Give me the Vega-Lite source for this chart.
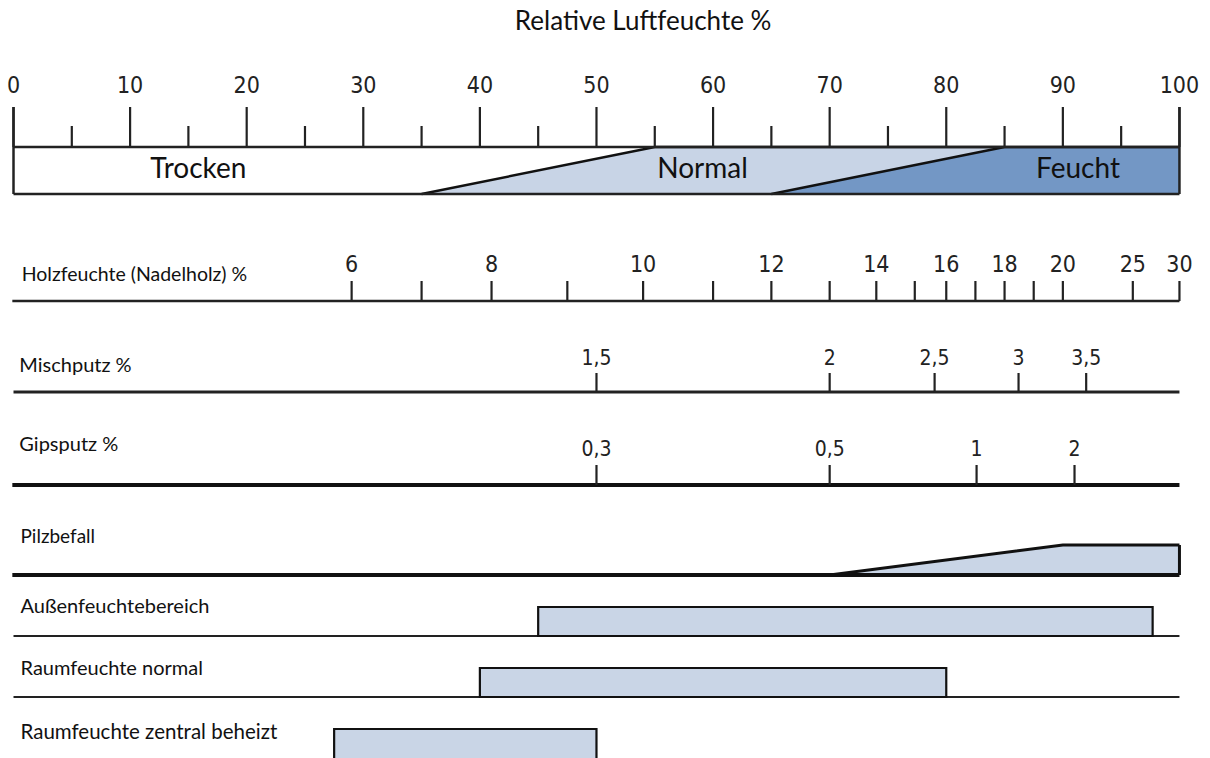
{
  "$schema": "https://vega.github.io/schema/vega-lite/v6.json",
  "width": 1210,
  "height": 758,
  "padding": 0,
  "autosize": {"type": "none"},
  "background": "white",
  "config": {"view": {"stroke": null}},
  "datasets": {
    "rh_skala": [
      {"rh": 0, "major": true, "label": "0"},
      {"rh": 5, "major": false, "label": ""},
      {"rh": 10, "major": true, "label": "10"},
      {"rh": 15, "major": false, "label": ""},
      {"rh": 20, "major": true, "label": "20"},
      {"rh": 25, "major": false, "label": ""},
      {"rh": 30, "major": true, "label": "30"},
      {"rh": 35, "major": false, "label": ""},
      {"rh": 40, "major": true, "label": "40"},
      {"rh": 45, "major": false, "label": ""},
      {"rh": 50, "major": true, "label": "50"},
      {"rh": 55, "major": false, "label": ""},
      {"rh": 60, "major": true, "label": "60"},
      {"rh": 65, "major": false, "label": ""},
      {"rh": 70, "major": true, "label": "70"},
      {"rh": 75, "major": false, "label": ""},
      {"rh": 80, "major": true, "label": "80"},
      {"rh": 85, "major": false, "label": ""},
      {"rh": 90, "major": true, "label": "90"},
      {"rh": 95, "major": false, "label": ""},
      {"rh": 100, "major": true, "label": "100"}
    ],
    "holz": [
      {"rh": 29, "label": "6"},
      {"rh": 35, "label": ""},
      {"rh": 41, "label": "8"},
      {"rh": 47.5, "label": ""},
      {"rh": 54, "label": "10"},
      {"rh": 60, "label": ""},
      {"rh": 65, "label": "12"},
      {"rh": 70, "label": ""},
      {"rh": 74, "label": "14"},
      {"rh": 77.3, "label": ""},
      {"rh": 80, "label": "16"},
      {"rh": 82.5, "label": ""},
      {"rh": 85, "label": "18"},
      {"rh": 87.5, "label": ""},
      {"rh": 90, "label": "20"},
      {"rh": 96, "label": "25"},
      {"rh": 100, "label": "30"}
    ],
    "misch": [
      {"rh": 50, "label": "1,5"},
      {"rh": 70, "label": "2"},
      {"rh": 79, "label": "2,5"},
      {"rh": 86.2, "label": "3"},
      {"rh": 92, "label": "3,5"}
    ],
    "gips": [
      {"rh": 50, "label": "0,3"},
      {"rh": 70, "label": "0,5"},
      {"rh": 82.6, "label": "1"},
      {"rh": 91, "label": "2"}
    ],
    "zonen": [
      {"zone": "Trocken", "rh": 15.85},
      {"zone": "Normal", "rh": 59.1},
      {"zone": "Feucht", "rh": 91.3}
    ],
    "normal": [
      {"rh": 35, "oben": 0, "unten": 0},
      {"rh": 55, "oben": 1, "unten": 0},
      {"rh": 65, "oben": 1, "unten": 0},
      {"rh": 85, "oben": 1, "unten": 1}
    ],
    "feucht": [
      {"rh": 65, "oben": 0, "unten": 0},
      {"rh": 85, "oben": 1, "unten": 0},
      {"rh": 100, "oben": 1, "unten": 0}
    ],
    "pilz": [
      {"rh": 70, "oben": 0, "unten": 0},
      {"rh": 90, "oben": 1, "unten": 0},
      {"rh": 100, "oben": 1, "unten": 0}
    ],
    "bereiche": [
      {"name": "Außenfeuchtebereich", "von": 45, "bis": 97.7},
      {"name": "Raumfeuchte normal", "von": 40, "bis": 80},
      {"name": "Raumfeuchte zentral beheizt", "von": 27.5, "bis": 50}
    ],
    "spuren": [
      {"name": "Holzfeuchte (Nadelholz) %", "rh": 0.7},
      {"name": "Mischputz %", "rh": 0.5},
      {"name": "Gipsputz %", "rh": 0.5},
      {"name": "Pilzbefall", "rh": 0.6},
      {"name": "Außenfeuchtebereich", "rh": 0.6},
      {"name": "Raumfeuchte normal", "rh": 0.6},
      {"name": "Raumfeuchte zentral beheizt", "rh": 0.6}
    ],
    "eins": [{"id": 1}]
  },
  "resolve": {"scale": {"y": "independent"}},
  "layer": [
    {
      "data": {"name": "normal"},
      "mark": {"type": "area", "color": "#c8d4e6", "opacity": 1, "line": {"color": "#111111", "strokeWidth": 2.5}},
      "encoding": {
        "x": {"field": "rh", "type": "quantitative", "scale": {"domain": [-1.158, 102.62], "nice": false, "zero": false}, "axis": null},
        "y": {"field": "oben", "type": "quantitative", "scale": {"domain": [-12, 4.128], "nice": false, "zero": false}, "axis": null},
        "y2": {"field": "unten"}
      }
    },
    {
      "data": {"name": "feucht"},
      "mark": {"type": "area", "color": "#7397c5", "opacity": 1, "line": {"color": "#111111", "strokeWidth": 2.5}},
      "encoding": {
        "x": {"field": "rh", "type": "quantitative", "scale": {"domain": [-1.158, 102.62], "nice": false, "zero": false}, "axis": null},
        "y": {"field": "oben", "type": "quantitative", "scale": {"domain": [-12, 4.128], "nice": false, "zero": false}, "axis": null},
        "y2": {"field": "unten"}
      }
    },
    {
      "data": {"name": "pilz"},
      "mark": {"type": "area", "color": "#c9d5e6", "opacity": 1, "line": {"color": "#111111", "strokeWidth": 3}},
      "encoding": {
        "x": {"field": "rh", "type": "quantitative", "scale": {"domain": [-1.158, 102.62], "nice": false, "zero": false}, "axis": null},
        "y": {"field": "oben", "type": "quantitative", "scale": {"domain": [-6.1, 19.1667], "nice": false, "zero": false}, "axis": null},
        "y2": {"field": "unten"}
      }
    },
    {
      "resolve": {"scale": {"y": "shared"}},
      "layer": [
        {
          "data": {"values": [{"t": "Relative Luftfeuchte %"}]},
          "mark": {"type": "text", "font": "Lato", "fontSize": 26, "align": "center", "baseline": "alphabetic", "color": "#111111"},
          "encoding": {
            "x": {"datum": 54.0, "type": "quantitative", "scale": {"domain": [-1.158, 102.62], "nice": false, "zero": false}, "axis": null},
            "y": {"datum": 30, "type": "quantitative", "scale": {"domain": [0, 758], "reverse": true, "nice": false, "zero": false}, "axis": null},
            "text": {"field": "t"}
          }
        },
        {
          "data": {"name": "rh_skala"},
          "transform": [{"filter": "datum.major"}],
          "mark": {"type": "rule", "color": "#222222", "strokeWidth": 2.2},
          "encoding": {
            "x": {"field": "rh", "type": "quantitative", "scale": {"domain": [-1.158, 102.62], "nice": false, "zero": false}, "axis": null},
            "y": {"datum": 107, "type": "quantitative", "axis": null},
            "y2": {"datum": 147}
          }
        },
        {
          "data": {"name": "rh_skala"},
          "transform": [{"filter": "!datum.major"}],
          "mark": {"type": "rule", "color": "#222222", "strokeWidth": 2.2},
          "encoding": {
            "x": {"field": "rh", "type": "quantitative", "scale": {"domain": [-1.158, 102.62], "nice": false, "zero": false}, "axis": null},
            "y": {"datum": 126, "type": "quantitative", "axis": null},
            "y2": {"datum": 147}
          }
        },
        {
          "data": {"name": "rh_skala"},
          "transform": [{"filter": "datum.major"}],
          "mark": {"type": "text", "font": "DejaVu Sans Condensed, Liberation Sans Narrow, sans-serif", "fontSize": 23, "align": "center", "baseline": "alphabetic", "color": "#222222"},
          "encoding": {
            "x": {"field": "rh", "type": "quantitative", "scale": {"domain": [-1.158, 102.62], "nice": false, "zero": false}, "axis": null},
            "y": {"datum": 93, "type": "quantitative", "axis": null},
            "text": {"field": "label"}
          }
        },
        {
          "data": {"name": "eins"},
          "mark": {"type": "rule", "color": "#222222", "strokeWidth": 2.5},
          "encoding": {
            "x": {"datum": 0, "type": "quantitative", "scale": {"domain": [-1.158, 102.62], "nice": false, "zero": false}, "axis": null},
            "x2": {"datum": 100},
            "y": {"datum": 147, "type": "quantitative", "axis": null}
          }
        },
        {
          "data": {"name": "eins"},
          "mark": {"type": "rule", "color": "#222222", "strokeWidth": 2.5},
          "encoding": {
            "x": {"datum": 0, "type": "quantitative", "scale": {"domain": [-1.158, 102.62], "nice": false, "zero": false}, "axis": null},
            "x2": {"datum": 100},
            "y": {"datum": 194, "type": "quantitative", "axis": null}
          }
        },
        {
          "data": {"name": "eins"},
          "mark": {"type": "rule", "color": "#222222", "strokeWidth": 2.5},
          "encoding": {
            "x": {"datum": 0, "type": "quantitative", "scale": {"domain": [-1.158, 102.62], "nice": false, "zero": false}, "axis": null},
            "y": {"datum": 107, "type": "quantitative", "axis": null},
            "y2": {"datum": 194}
          }
        },
        {
          "data": {"name": "eins"},
          "mark": {"type": "rule", "color": "#222222", "strokeWidth": 2.5},
          "encoding": {
            "x": {"datum": 100, "type": "quantitative", "scale": {"domain": [-1.158, 102.62], "nice": false, "zero": false}, "axis": null},
            "y": {"datum": 107, "type": "quantitative", "axis": null},
            "y2": {"datum": 194}
          }
        },
        {
          "data": {"name": "zonen"},
          "mark": {"type": "text", "font": "Lato", "fontSize": 28, "align": "center", "baseline": "alphabetic", "color": "#111111"},
          "encoding": {
            "x": {"field": "rh", "type": "quantitative", "scale": {"domain": [-1.158, 102.62], "nice": false, "zero": false}, "axis": null},
            "y": {"datum": 178, "type": "quantitative", "axis": null},
            "text": {"field": "zone"}
          }
        },
        {
          "data": {"name": "spuren"},
          "transform": [{"filter": "datum.name === 'Holzfeuchte (Nadelholz) %'"}],
          "mark": {"type": "text", "font": "Lato", "fontSize": 19.5, "align": "left", "baseline": "alphabetic", "color": "#111111"},
          "encoding": {
            "x": {"field": "rh", "type": "quantitative", "scale": {"domain": [-1.158, 102.62], "nice": false, "zero": false}, "axis": null},
            "y": {"datum": 281, "type": "quantitative", "axis": null},
            "text": {"field": "name"}
          }
        },
        {
          "data": {"name": "eins"},
          "mark": {"type": "rule", "color": "#222222", "strokeWidth": 2.5},
          "encoding": {
            "x": {"datum": -0.1, "type": "quantitative", "scale": {"domain": [-1.158, 102.62], "nice": false, "zero": false}, "axis": null},
            "x2": {"datum": 100},
            "y": {"datum": 301, "type": "quantitative", "axis": null}
          }
        },
        {
          "data": {"name": "holz"},
          "mark": {"type": "rule", "color": "#222222", "strokeWidth": 2.2},
          "encoding": {
            "x": {"field": "rh", "type": "quantitative", "scale": {"domain": [-1.158, 102.62], "nice": false, "zero": false}, "axis": null},
            "y": {"datum": 281, "type": "quantitative", "axis": null},
            "y2": {"datum": 301}
          }
        },
        {
          "data": {"name": "holz"},
          "mark": {"type": "text", "font": "DejaVu Sans Condensed, Liberation Sans Narrow, sans-serif", "fontSize": 23, "align": "center", "baseline": "alphabetic", "color": "#222222"},
          "encoding": {
            "x": {"field": "rh", "type": "quantitative", "scale": {"domain": [-1.158, 102.62], "nice": false, "zero": false}, "axis": null},
            "y": {"datum": 272, "type": "quantitative", "axis": null},
            "text": {"field": "label"}
          }
        },
        {
          "data": {"name": "spuren"},
          "transform": [{"filter": "datum.name === 'Mischputz %'"}],
          "mark": {"type": "text", "font": "Lato", "fontSize": 20, "align": "left", "baseline": "alphabetic", "color": "#111111"},
          "encoding": {
            "x": {"field": "rh", "type": "quantitative", "scale": {"domain": [-1.158, 102.62], "nice": false, "zero": false}, "axis": null},
            "y": {"datum": 372, "type": "quantitative", "axis": null},
            "text": {"field": "name"}
          }
        },
        {
          "data": {"name": "eins"},
          "mark": {"type": "rule", "color": "#222222", "strokeWidth": 2.8},
          "encoding": {
            "x": {"datum": 0, "type": "quantitative", "scale": {"domain": [-1.158, 102.62], "nice": false, "zero": false}, "axis": null},
            "x2": {"datum": 100},
            "y": {"datum": 392, "type": "quantitative", "axis": null}
          }
        },
        {
          "data": {"name": "misch"},
          "mark": {"type": "rule", "color": "#222222", "strokeWidth": 2.2},
          "encoding": {
            "x": {"field": "rh", "type": "quantitative", "scale": {"domain": [-1.158, 102.62], "nice": false, "zero": false}, "axis": null},
            "y": {"datum": 373, "type": "quantitative", "axis": null},
            "y2": {"datum": 392}
          }
        },
        {
          "data": {"name": "misch"},
          "mark": {"type": "text", "font": "DejaVu Sans Condensed, Liberation Sans Narrow, sans-serif", "fontSize": 21, "align": "center", "baseline": "alphabetic", "color": "#222222"},
          "encoding": {
            "x": {"field": "rh", "type": "quantitative", "scale": {"domain": [-1.158, 102.62], "nice": false, "zero": false}, "axis": null},
            "y": {"datum": 365, "type": "quantitative", "axis": null},
            "text": {"field": "label"}
          }
        },
        {
          "data": {"name": "spuren"},
          "transform": [{"filter": "datum.name === 'Gipsputz %'"}],
          "mark": {"type": "text", "font": "Lato", "fontSize": 20, "align": "left", "baseline": "alphabetic", "color": "#111111"},
          "encoding": {
            "x": {"field": "rh", "type": "quantitative", "scale": {"domain": [-1.158, 102.62], "nice": false, "zero": false}, "axis": null},
            "y": {"datum": 451, "type": "quantitative", "axis": null},
            "text": {"field": "name"}
          }
        },
        {
          "data": {"name": "eins"},
          "mark": {"type": "rule", "color": "#111111", "strokeWidth": 4},
          "encoding": {
            "x": {"datum": -0.1, "type": "quantitative", "scale": {"domain": [-1.158, 102.62], "nice": false, "zero": false}, "axis": null},
            "x2": {"datum": 100},
            "y": {"datum": 485, "type": "quantitative", "axis": null}
          }
        },
        {
          "data": {"name": "gips"},
          "mark": {"type": "rule", "color": "#222222", "strokeWidth": 2.2},
          "encoding": {
            "x": {"field": "rh", "type": "quantitative", "scale": {"domain": [-1.158, 102.62], "nice": false, "zero": false}, "axis": null},
            "y": {"datum": 465, "type": "quantitative", "axis": null},
            "y2": {"datum": 485}
          }
        },
        {
          "data": {"name": "gips"},
          "mark": {"type": "text", "font": "DejaVu Sans Condensed, Liberation Sans Narrow, sans-serif", "fontSize": 21, "align": "center", "baseline": "alphabetic", "color": "#222222"},
          "encoding": {
            "x": {"field": "rh", "type": "quantitative", "scale": {"domain": [-1.158, 102.62], "nice": false, "zero": false}, "axis": null},
            "y": {"datum": 456, "type": "quantitative", "axis": null},
            "text": {"field": "label"}
          }
        },
        {
          "data": {"name": "spuren"},
          "transform": [{"filter": "datum.name === 'Pilzbefall'"}],
          "mark": {"type": "text", "font": "Lato", "fontSize": 19, "align": "left", "baseline": "alphabetic", "color": "#111111"},
          "encoding": {
            "x": {"field": "rh", "type": "quantitative", "scale": {"domain": [-1.158, 102.62], "nice": false, "zero": false}, "axis": null},
            "y": {"datum": 543, "type": "quantitative", "axis": null},
            "text": {"field": "name"}
          }
        },
        {
          "data": {"name": "eins"},
          "mark": {"type": "rule", "color": "#111111", "strokeWidth": 4},
          "encoding": {
            "x": {"datum": -0.1, "type": "quantitative", "scale": {"domain": [-1.158, 102.62], "nice": false, "zero": false}, "axis": null},
            "x2": {"datum": 100},
            "y": {"datum": 575, "type": "quantitative", "axis": null}
          }
        },
        {
          "data": {"name": "eins"},
          "mark": {"type": "rule", "color": "#111111", "strokeWidth": 3},
          "encoding": {
            "x": {"datum": 100, "type": "quantitative", "scale": {"domain": [-1.158, 102.62], "nice": false, "zero": false}, "axis": null},
            "y": {"datum": 545, "type": "quantitative", "axis": null},
            "y2": {"datum": 575}
          }
        },
        {
          "data": {"name": "spuren"},
          "transform": [{"filter": "datum.name === 'Außenfeuchtebereich'"}],
          "mark": {"type": "text", "font": "Lato", "fontSize": 20, "align": "left", "baseline": "alphabetic", "color": "#111111"},
          "encoding": {
            "x": {"field": "rh", "type": "quantitative", "scale": {"domain": [-1.158, 102.62], "nice": false, "zero": false}, "axis": null},
            "y": {"datum": 613, "type": "quantitative", "axis": null},
            "text": {"field": "name"}
          }
        },
        {
          "data": {"name": "eins"},
          "mark": {"type": "rule", "color": "#222222", "strokeWidth": 2.2},
          "encoding": {
            "x": {"datum": 0, "type": "quantitative", "scale": {"domain": [-1.158, 102.62], "nice": false, "zero": false}, "axis": null},
            "x2": {"datum": 100},
            "y": {"datum": 636, "type": "quantitative", "axis": null}
          }
        },
        {
          "data": {"name": "bereiche"},
          "transform": [{"filter": "datum.name === 'Außenfeuchtebereich'"}],
          "mark": {"type": "rect", "fill": "#c9d5e6", "stroke": "#111111", "strokeWidth": 2.2},
          "encoding": {
            "x": {"field": "von", "type": "quantitative", "scale": {"domain": [-1.158, 102.62], "nice": false, "zero": false}, "axis": null},
            "x2": {"field": "bis"},
            "y": {"datum": 607, "type": "quantitative", "axis": null},
            "y2": {"datum": 636}
          }
        },
        {
          "data": {"name": "spuren"},
          "transform": [{"filter": "datum.name === 'Raumfeuchte normal'"}],
          "mark": {"type": "text", "font": "Lato", "fontSize": 20, "align": "left", "baseline": "alphabetic", "color": "#111111"},
          "encoding": {
            "x": {"field": "rh", "type": "quantitative", "scale": {"domain": [-1.158, 102.62], "nice": false, "zero": false}, "axis": null},
            "y": {"datum": 675, "type": "quantitative", "axis": null},
            "text": {"field": "name"}
          }
        },
        {
          "data": {"name": "eins"},
          "mark": {"type": "rule", "color": "#222222", "strokeWidth": 2.2},
          "encoding": {
            "x": {"datum": 0, "type": "quantitative", "scale": {"domain": [-1.158, 102.62], "nice": false, "zero": false}, "axis": null},
            "x2": {"datum": 100},
            "y": {"datum": 697, "type": "quantitative", "axis": null}
          }
        },
        {
          "data": {"name": "bereiche"},
          "transform": [{"filter": "datum.name === 'Raumfeuchte normal'"}],
          "mark": {"type": "rect", "fill": "#c9d5e6", "stroke": "#111111", "strokeWidth": 2.2},
          "encoding": {
            "x": {"field": "von", "type": "quantitative", "scale": {"domain": [-1.158, 102.62], "nice": false, "zero": false}, "axis": null},
            "x2": {"field": "bis"},
            "y": {"datum": 668, "type": "quantitative", "axis": null},
            "y2": {"datum": 697}
          }
        },
        {
          "data": {"name": "spuren"},
          "transform": [{"filter": "datum.name === 'Raumfeuchte zentral beheizt'"}],
          "mark": {"type": "text", "font": "Lato", "fontSize": 20.5, "align": "left", "baseline": "alphabetic", "color": "#111111"},
          "encoding": {
            "x": {"field": "rh", "type": "quantitative", "scale": {"domain": [-1.158, 102.62], "nice": false, "zero": false}, "axis": null},
            "y": {"datum": 739, "type": "quantitative", "axis": null},
            "text": {"field": "name"}
          }
        },
        {
          "data": {"name": "bereiche"},
          "transform": [{"filter": "datum.name === 'Raumfeuchte zentral beheizt'"}],
          "mark": {"type": "rect", "fill": "#c9d5e6", "stroke": "#111111", "strokeWidth": 2.2},
          "encoding": {
            "x": {"field": "von", "type": "quantitative", "scale": {"domain": [-1.158, 102.62], "nice": false, "zero": false}, "axis": null},
            "x2": {"field": "bis"},
            "y": {"datum": 729, "type": "quantitative", "axis": null},
            "y2": {"datum": 762}
          }
        }
      ]
    }
  ]
}
